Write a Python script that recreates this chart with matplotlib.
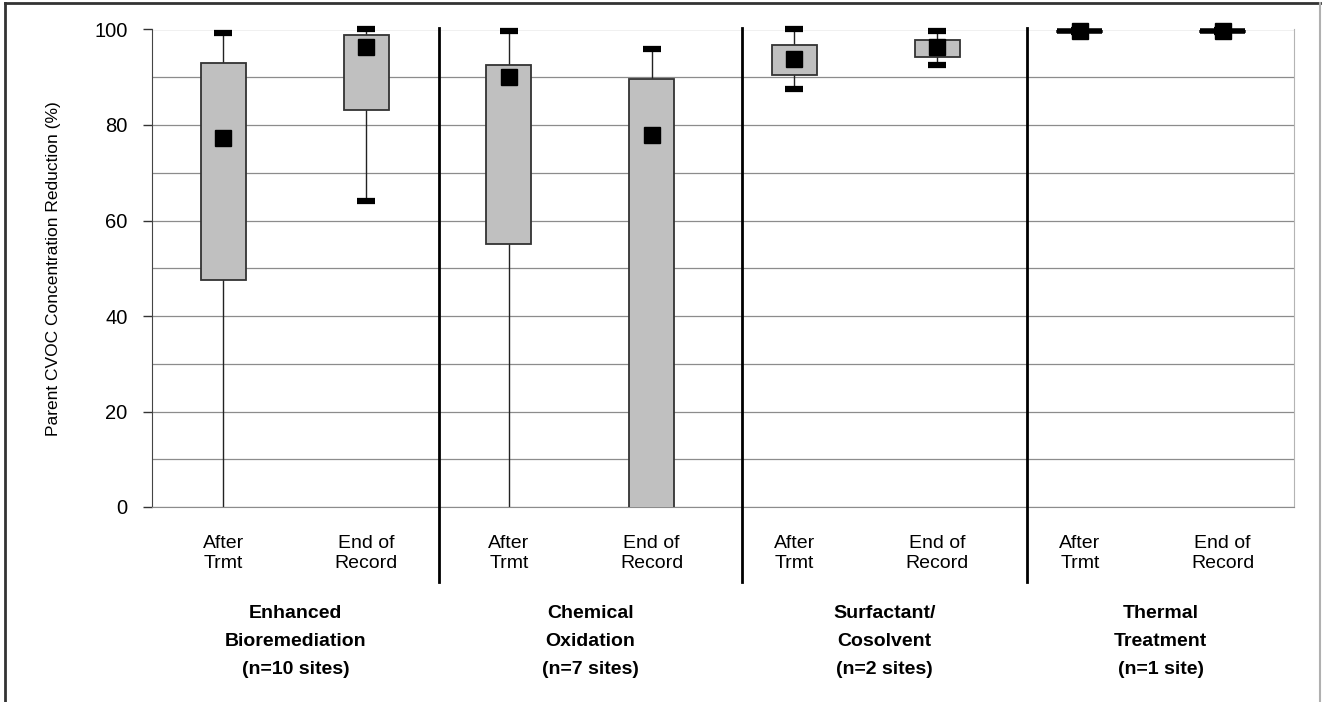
import matplotlib
matplotlib.use("Agg")
import matplotlib.pyplot as plt
from matplotlib.patches import Rectangle
from matplotlib.lines import Line2D
from matplotlib.transforms import blended_transform_factory

plt.rcParams['font.family'] = ['Liberation Sans', 'DejaVu Sans']

# box plot summary per treatment / time point
categories = ["After\nTrmt", "End of\nRecord"] * 4
groups = ["Enhanced\nBioremediation\n(n=10 sites)",
          "Chemical\nOxidation\n(n=7 sites)",
          "Surfactant/\nCosolvent\n(n=2 sites)",
          "Thermal\nTreatment\n(n=1 site)"]
maxima = [99.3, 100.0, 99.6, 95.9, 100.0, 99.6, 99.8, 99.8]
q3 = [93.0, 98.8, 92.6, 89.7, 96.7, 97.9, 99.8, 99.8]
q1 = [47.5, 83.1, 55.1, -10.0, 90.5, 94.2, 99.4, 99.4]
minima = [-30.0, 64.0, -30.0, -40.0, 87.5, 92.6, 99.4, 99.4]
means = [77.2, 96.4, 90.0, 78.0, 93.8, 96.3, 99.6, 99.6]

# divider positions between the treatment groups (category units)
dividers = [1.51, 3.63, 5.63]

fig = plt.figure(figsize=(13.25, 7.02), dpi=100)
ax = fig.add_axes([152 / 1325, 1 - 507 / 702, 1142 / 1325, 477.5 / 702])

box_w = 0.315
cap_w = 0.126
for i in range(len(categories)):
    # whiskers
    ax.plot([i, i], [minima[i], q1[i]], color='#222222', lw=1.0, zorder=2)
    ax.plot([i, i], [q3[i], maxima[i]], color='#222222', lw=1.0, zorder=2)
    # caps (the ones below zero get clipped)
    for v in (minima[i], maxima[i]):
        ax.plot([i - cap_w / 2, i + cap_w / 2], [v, v], color='black', lw=4.5,
                solid_capstyle='butt', zorder=4, clip_on=v < 0)
    # box
    ax.add_patch(Rectangle((i - box_w / 2, q1[i]), box_w, q3[i] - q1[i],
                           facecolor='#c0c0c0', edgecolor='#333333', lw=1.3, zorder=3))
    # mean
    ax.plot(i, means[i], marker='s', color='black', markersize=11.5, zorder=5, clip_on=False)

# thermal treatment boxes collapse to a bar
for i in (6, 7):
    ax.plot([i - box_w / 2, i + box_w / 2], [means[i], means[i]], color='black', lw=4.0,
            solid_capstyle='butt', zorder=4, clip_on=False)

ax.set_xlim(-0.5, len(categories) - 0.5)
ax.set_ylim(0, 100)
ax.set_yticks(range(0, 101, 20))
ax.set_yticks(range(0, 101, 10), minor=True)
ax.yaxis.grid(True, which='both', color='#8c8c8c', lw=0.9, zorder=0)
ax.set_axisbelow(True)
ax.tick_params(axis='y', which='major', direction='out', length=6.5, width=1, color='#333333',
               labelsize=14.5, pad=11)
ax.tick_params(axis='y', which='minor', length=0)
ax.set_xticks([])
ax.spines['top'].set_visible(False)
ax.spines['left'].set_color('#444444')
ax.spines['bottom'].set_color('#8c8c8c')
ax.spines['right'].set_color('#b4b4b4')
ax.set_ylabel("Parent CVOC Concentration Reduction (%)", fontsize=12.5, labelpad=24)

trans = blended_transform_factory(ax.transData, ax.transAxes)
for i, lab in enumerate(categories):
    ax.text(i, -0.058, lab, transform=trans, ha='center', va='top', fontsize=14,
            linespacing=1.25)

bounds = [-0.5] + dividers + [len(categories) - 0.5]
for d in dividers:
    ax.plot([d, d], [1.003, -0.158], transform=trans, color='black', lw=2, clip_on=False, zorder=6)
for g, lab in enumerate(groups):
    xc = (bounds[g] + bounds[g + 1]) / 2
    ax.text(xc, -0.205, lab, transform=trans, ha='center', va='top', fontsize=14,
            fontweight='bold', linespacing=1.85)

# outer frame
fig.add_artist(Line2D([5 / 1325, 5 / 1325], [0, 1 - 3 / 702], color='#333333', lw=2))
fig.add_artist(Line2D([5 / 1325, 1320 / 1325], [1 - 3 / 702, 1 - 3 / 702], color='#333333', lw=2))
fig.add_artist(Line2D([1320 / 1325, 1320 / 1325], [0, 1 - 3 / 702], color='#b0b0b0', lw=1.5))

fig.savefig("out.png", dpi=100)
